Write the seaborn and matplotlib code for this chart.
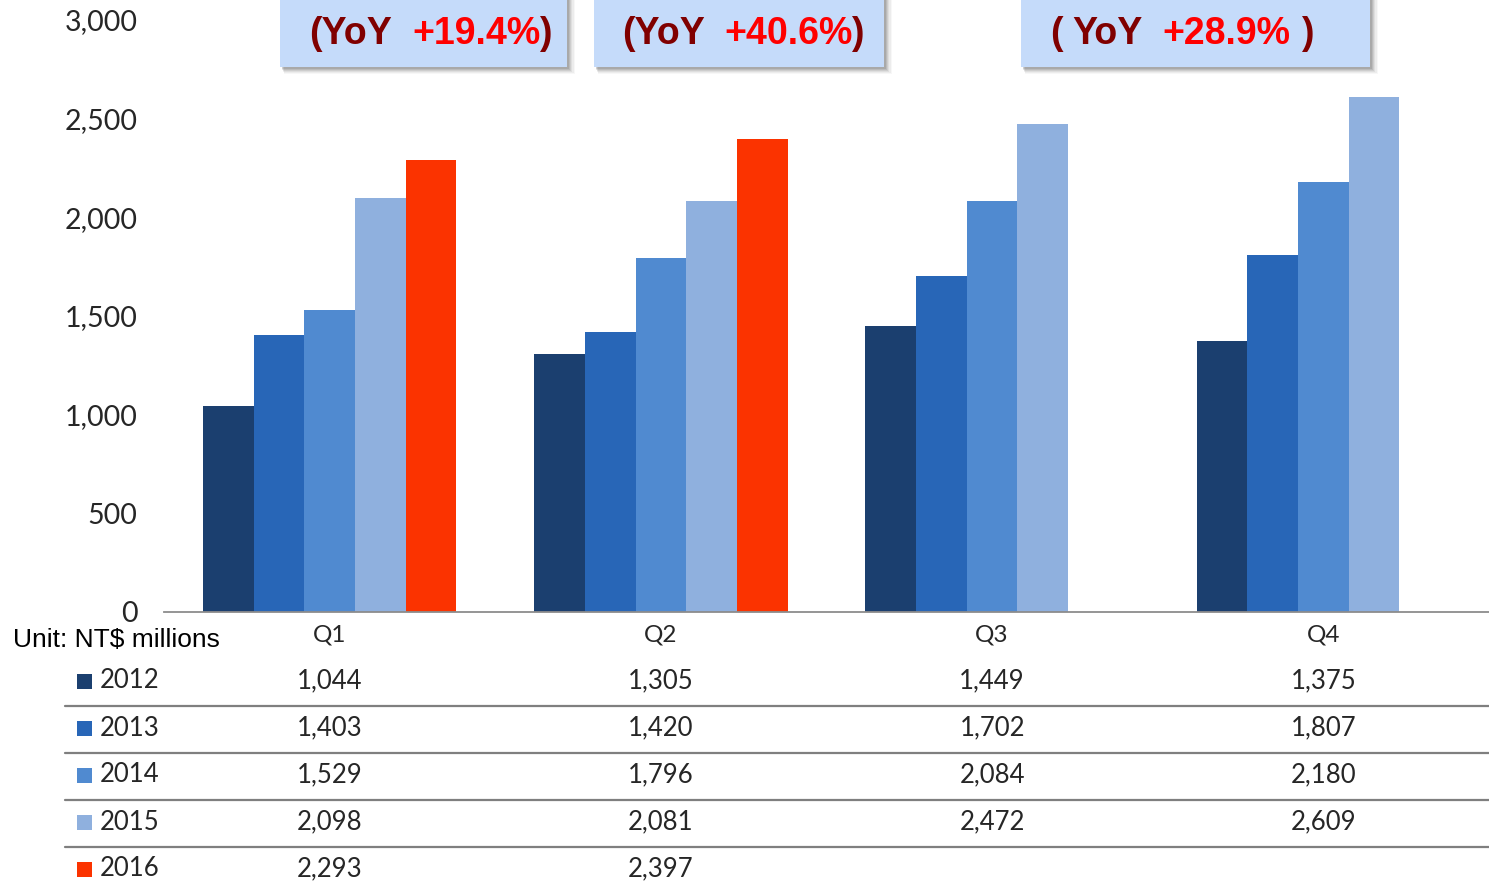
import numpy as np
import pandas as pd
import matplotlib
matplotlib.use("Agg")
import matplotlib.pyplot as plt
import matplotlib.transforms as mtrans
from matplotlib.patches import Rectangle
from matplotlib.ticker import FuncFormatter
import seaborn as sns

# ---------------- data ----------------
quarters = ["Q1", "Q2", "Q3", "Q4"]
years = ["2012", "2013", "2014", "2015", "2016"]
v2012 = [1044, 1305, 1449, 1375]
v2013 = [1403, 1420, 1702, 1807]
v2014 = [1529, 1796, 2084, 2180]
v2015 = [2098, 2081, 2472, 2609]
v2016 = [2293, 2397, None, None]
year_colors = ["#1b3f6f", "#2866b7", "#508ad0", "#8fb0de", "#fb3300"]
yoy_labels = ["+19.4%", "+40.6%", "+28.9%"]
y_ticks = [0, 500, 1000, 1500, 2000, 2500, 3000]

series = [v2012, v2013, v2014, v2015, v2016]
rows = []
for yr, vals in zip(years, series):
    for q, v in zip(quarters, vals):
        if v is not None:
            rows.append({"quarter": q, "year": yr, "value": v})
df = pd.DataFrame(rows)

# ---------------- figure ----------------
W, H = 1489, 884
sns.set_theme(style="white")
plt.rcParams["font.family"] = ["Lato", "DejaVu Sans"]
txt_col = "#262626"

fig = plt.figure(figsize=(W / 100, H / 100), dpi=100)

def fx(x):
    return x / W

def fy(y):
    return 1 - y / H

ax_left, ax_right, ax_top, ax_bot = 164, 1489, 20, 612
ax = fig.add_axes([fx(ax_left), fy(ax_bot), fx(ax_right - ax_left), (ax_bot - ax_top) / H])

sns.barplot(data=df, x="quarter", y="value", hue="year", order=quarters,
            hue_order=years, palette=year_colors, saturation=1, width=0.765,
            linewidth=0, legend=False, ax=ax)

ax.set_xlim(-0.5, 3.5)
ax.set_ylim(0, 3000)
ax.set_yticks(y_ticks)
ax.yaxis.set_major_formatter(FuncFormatter(lambda v, p: f"{int(v):,}"))
ax.set_xlabel("")
ax.set_ylabel("")
for s in ["left", "right", "top"]:
    ax.spines[s].set_visible(False)
ax.spines["bottom"].set_color("#8c8c8c")
ax.spines["bottom"].set_linewidth(1.3)
ax.tick_params(axis="y", length=0, pad=19, labelsize=20.5, labelcolor=txt_col)
ax.tick_params(axis="x", length=0, pad=9, labelsize=17.5, labelcolor=txt_col)

# ---------------- data table ----------------
row_y = [681, 728, 775, 822, 869]
sep_y = [706, 753, 800, 847]
blend = mtrans.blended_transform_factory(ax.transData, fig.transFigure)

for i, (yr, vals, col) in enumerate(zip(years, series, year_colors)):
    yy = fy(row_y[i])
    fig.add_artist(Rectangle((fx(77), yy - 7.5 / H), 15 / W, 15 / H,
                             transform=fig.transFigure, color=col, lw=0))
    fig.text(fx(100), yy, yr, ha="left", va="center", fontsize=18.5, color=txt_col)
    for j, v in enumerate(vals):
        if v is not None:
            fig.text(j, yy, f"{v:,}", transform=blend, ha="center", va="center",
                     fontsize=18.5, color=txt_col)

for sy in sep_y:
    fig.add_artist(plt.Line2D([fx(65), 1.0], [fy(sy), fy(sy)], transform=fig.transFigure,
                              color="#7f7f7f", lw=1.6))

fig.text(fx(13), fy(640), "Unit: NT$ millions", ha="left", va="center",
         fontsize=19, color="black", family=["Liberation Sans", "DejaVu Sans"])

# ---------------- YoY callout boxes ----------------
boxes = [(280, 567), (594, 884), (1021, 1370)]
box_bottom = 67
for (x0, x1) in boxes:
    for k, a in zip(range(6, 0, -1), [0.04, 0.06, 0.08, 0.1, 0.12, 0.14]):
        fig.add_artist(Rectangle((fx(x0 + 1 + k * 0.5), fy(box_bottom + 1 + k)),
                                 (x1 - x0 + k * 0.6) / W, (box_bottom + 10) / H,
                                 transform=fig.transFigure, color="#404040", alpha=a, lw=0))
    fig.add_artist(Rectangle((fx(x0), fy(box_bottom)), (x1 - x0) / W, (box_bottom + 10) / H,
                             transform=fig.transFigure, color="#c5dbfa", lw=0))

txt_y = fy(34)
bold = dict(fontsize=27, fontweight="bold", va="center", ha="left",
            family=["Liberation Sans", "DejaVu Sans"])
dark = "#800000"
red = "#ff0000"
# box 1
fig.text(fx(309), txt_y, "(YoY", color=dark, **bold)
fig.text(fx(412), txt_y, yoy_labels[0], color=red, **bold)
fig.text(fx(539), txt_y, ")", color=dark, **bold)
# box 2
fig.text(fx(622), txt_y, "(YoY", color=dark, **bold)
fig.text(fx(724), txt_y, yoy_labels[1], color=red, **bold)
fig.text(fx(851), txt_y, ")", color=dark, **bold)
# box 3
fig.text(fx(1050), txt_y, "(", color=dark, **bold)
fig.text(fx(1072), txt_y, "YoY", color=dark, **bold)
fig.text(fx(1162), txt_y, yoy_labels[2], color=red, **bold)
fig.text(fx(1301), txt_y, ")", color=dark, **bold)

fig.savefig("out.png", dpi=100)
